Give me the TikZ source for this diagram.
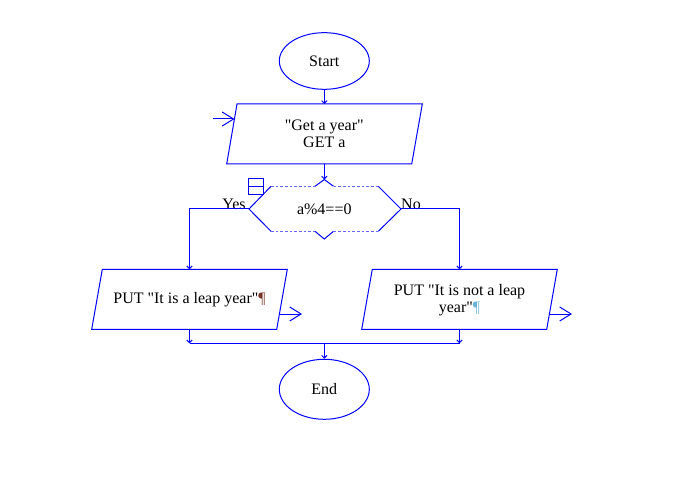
\documentclass[tikz,border=0pt]{standalone}
\usepackage{fontspec}
\setmainfont{Liberation Serif}
\usetikzlibrary{arrows.meta,shapes.geometric}
\definecolor{fc}{rgb}{0,0,1}
\definecolor{fcl}{rgb}{0.4,0.4,1}
\definecolor{pilA}{rgb}{0.45,0.2,0.15}
\definecolor{pilB}{rgb}{0.4,0.7,0.85}
\newcommand{\qq}{\textquotedbl}
\tikzset{
  ln/.style={draw=fc, line width=0.75pt},
  con/.style={ln, -{Straight Barb[length=2pt,width=4pt]}},
  bigarr/.style={ln, -{Straight Barb[length=8.5pt,width=10.5pt]}},
  term/.style={ellipse, draw=fc, line width=0.75pt, minimum width=67.5pt, inner sep=0pt},
  txt/.style={font=\fontsize{12pt}{12.75pt}\selectfont, text=black, inner sep=0pt, align=center},
  dsh/.style={draw=fcl, line width=0.75pt, dash pattern=on 2pt off 1.5pt},
}
\begin{document}
\begin{tikzpicture}[x=0.75pt,y=-0.75pt]
\useasboundingbox (0,0) rectangle (678,502);
% Start
\node[term, minimum height=42.5pt, txt] (start) at (324.3,61) {Start};
% Get parallelogram
\draw[ln] (237,104) -- (422.3,104) -- (411.7,164) -- (226.7,164) -- cycle;
\coordinate (gettop) at (324.3,104);
\coordinate (getbot) at (324.3,164);
\coordinate (getin) at (234.5,119);
\coordinate (inbeg) at (213,119);
\node[txt] (get) at (324.3,134) {\qq{}Get a year\qq{}\\GET a};
% decision
\draw[ln] (271,186.3) -- (249,209) -- (271,231.3);
\draw[ln] (378.3,186.3) -- (401,209) -- (378.3,231.3);
\draw[ln] (315,186.3) -- (324.3,179.5) -- (333.5,186.3);
\draw[ln] (315,231.3) -- (324.3,239) -- (333.5,231.3);
\draw[dsh] (271,186.3) -- (315,186.3) (333.5,186.3) -- (378.3,186.3);
\draw[dsh] (271,231.3) -- (315,231.3) (333.5,231.3) -- (378.3,231.3);
\coordinate (dtop) at (324.3,179.5);
\coordinate (dleft) at (249,209);
\coordinate (dright) at (401,209);
\node[txt] (cond) at (324.3,209) {a\%4==0};
\draw[ln] (248.3,179) rectangle (263.3,194.3);
\draw[ln] (248.3,186.7) -- (263.3,186.7);
\node[txt, anchor=base] (yes) at (234,209.5) {Yes};
\node[txt, anchor=base] (no) at (411,209.5) {No};
% Put1
\draw[ln] (102.3,269.3) -- (287.3,269.3) -- (276.7,329.3) -- (91.7,329.3) -- cycle;
\coordinate (p1top) at (189.5,269.3);
\coordinate (p1bot) at (189.5,329.3);
\coordinate (p1out) at (279.3,314);
\coordinate (p1end) at (302,314);
\node[txt] (put1) at (189.5,300) {PUT \qq{}It is a leap year\qq{}\textcolor{pilA}{¶}};
% Put2
\draw[ln] (372.3,269.3) -- (557.3,269.3) -- (546.7,329.3) -- (361.7,329.3) -- cycle;
\coordinate (p2top) at (459.5,269.3);
\coordinate (p2bot) at (459.5,329.3);
\coordinate (p2out) at (549.3,314);
\coordinate (p2end) at (572,314);
\node[txt] (put2) at (459.5,300) {PUT \qq{}It is not a leap\\year\qq{}\textcolor{pilB}{¶}};
% End
\node[term, minimum height=45pt, txt] (end) at (324.3,389.3) {End};
% merge coordinates
\coordinate (m1) at (189.5,343.3);
\coordinate (m2) at (459.5,343.3);
\coordinate (mc) at (324.3,343.3);
% connectors
\draw[con] (start.south) -- (gettop);
\draw[bigarr] (inbeg) -- (getin);
\draw[con] (getbot) -- (dtop);
\draw[con] (dleft) -| (p1top);
\draw[con] (dright) -| (p2top);
\draw[bigarr] (p1out) -- (p1end);
\draw[bigarr] (p2out) -- (p2end);
\draw[con] (p1bot) -- (m1);
\draw[con] (p2bot) -- (m2);
\draw[ln] (m1) -- (m2);
\draw[con] (mc) -- (end.north);
\end{tikzpicture}
\end{document}
